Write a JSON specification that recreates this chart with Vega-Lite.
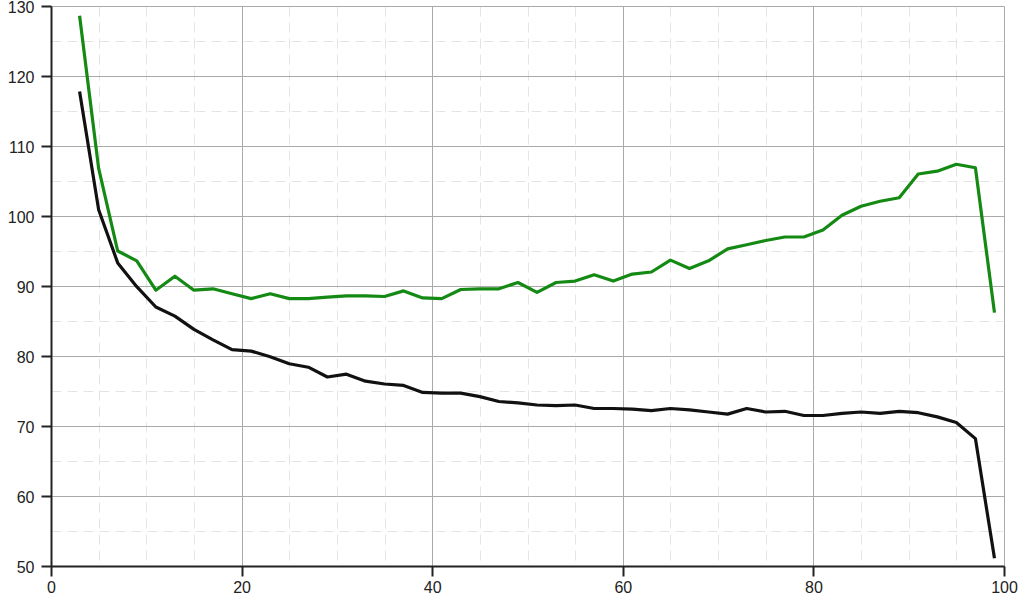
{
  "$schema": "https://vega.github.io/schema/vega-lite/v6.json",
  "width": 953,
  "height": 560,
  "autosize": {"type": "none"},
  "padding": {"left": 51, "top": 6, "right": 20, "bottom": 40},
  "background": "white",
  "config": {
    "view": {"stroke": null},
    "axis": {
      "labelFont": "Liberation Sans",
      "labelFontSize": 16,
      "labelColor": "#222222",
      "labelFlush": false,
      "labelOverlap": false,
      "titleFont": "Liberation Sans",
      "domain": true,
      "domainColor": "#222222",
      "domainWidth": 2,
      "ticks": true,
      "tickColor": "#222222",
      "tickWidth": 2,
      "tickSize": 10,
      "grid": true,
      "gridWidth": 1
    }
  },
  "datasets": {
    "d": [
      {"p": 3, "s": "green", "v": 128.6}, {"p": 5, "s": "green", "v": 106.8}, {"p": 7, "s": "green", "v": 95.0},
      {"p": 9, "s": "green", "v": 93.6}, {"p": 11, "s": "green", "v": 89.4}, {"p": 13, "s": "green", "v": 91.4},
      {"p": 15, "s": "green", "v": 89.4}, {"p": 17, "s": "green", "v": 89.6}, {"p": 19, "s": "green", "v": 88.9},
      {"p": 21, "s": "green", "v": 88.2}, {"p": 23, "s": "green", "v": 88.9}, {"p": 25, "s": "green", "v": 88.2},
      {"p": 27, "s": "green", "v": 88.2}, {"p": 29, "s": "green", "v": 88.4}, {"p": 31, "s": "green", "v": 88.6},
      {"p": 33, "s": "green", "v": 88.6}, {"p": 35, "s": "green", "v": 88.5}, {"p": 37, "s": "green", "v": 89.3},
      {"p": 39, "s": "green", "v": 88.3}, {"p": 41, "s": "green", "v": 88.2}, {"p": 43, "s": "green", "v": 89.5},
      {"p": 45, "s": "green", "v": 89.6}, {"p": 47, "s": "green", "v": 89.6}, {"p": 49, "s": "green", "v": 90.5},
      {"p": 51, "s": "green", "v": 89.1}, {"p": 53, "s": "green", "v": 90.5}, {"p": 55, "s": "green", "v": 90.7},
      {"p": 57, "s": "green", "v": 91.6}, {"p": 59, "s": "green", "v": 90.7}, {"p": 61, "s": "green", "v": 91.7},
      {"p": 63, "s": "green", "v": 92.0}, {"p": 65, "s": "green", "v": 93.7}, {"p": 67, "s": "green", "v": 92.5},
      {"p": 69, "s": "green", "v": 93.6}, {"p": 71, "s": "green", "v": 95.3}, {"p": 73, "s": "green", "v": 95.9},
      {"p": 75, "s": "green", "v": 96.5}, {"p": 77, "s": "green", "v": 97.0}, {"p": 79, "s": "green", "v": 97.0},
      {"p": 81, "s": "green", "v": 98.0}, {"p": 83, "s": "green", "v": 100.1}, {"p": 85, "s": "green", "v": 101.4},
      {"p": 87, "s": "green", "v": 102.1}, {"p": 89, "s": "green", "v": 102.6}, {"p": 91, "s": "green", "v": 106.0},
      {"p": 93, "s": "green", "v": 106.4}, {"p": 95, "s": "green", "v": 107.4}, {"p": 97, "s": "green", "v": 106.9},
      {"p": 99, "s": "green", "v": 86.2},
      {"p": 3, "s": "black", "v": 117.8}, {"p": 5, "s": "black", "v": 100.9}, {"p": 7, "s": "black", "v": 93.3},
      {"p": 9, "s": "black", "v": 89.9}, {"p": 11, "s": "black", "v": 87.0}, {"p": 13, "s": "black", "v": 85.7},
      {"p": 15, "s": "black", "v": 83.8}, {"p": 17, "s": "black", "v": 82.3}, {"p": 19, "s": "black", "v": 80.9},
      {"p": 21, "s": "black", "v": 80.7}, {"p": 23, "s": "black", "v": 79.9}, {"p": 25, "s": "black", "v": 78.9},
      {"p": 27, "s": "black", "v": 78.4}, {"p": 29, "s": "black", "v": 77.0}, {"p": 31, "s": "black", "v": 77.4},
      {"p": 33, "s": "black", "v": 76.4}, {"p": 35, "s": "black", "v": 76.0}, {"p": 37, "s": "black", "v": 75.8},
      {"p": 39, "s": "black", "v": 74.8}, {"p": 41, "s": "black", "v": 74.7}, {"p": 43, "s": "black", "v": 74.7},
      {"p": 45, "s": "black", "v": 74.2}, {"p": 47, "s": "black", "v": 73.5}, {"p": 49, "s": "black", "v": 73.3},
      {"p": 51, "s": "black", "v": 73.0}, {"p": 53, "s": "black", "v": 72.9}, {"p": 55, "s": "black", "v": 73.0},
      {"p": 57, "s": "black", "v": 72.5}, {"p": 59, "s": "black", "v": 72.5}, {"p": 61, "s": "black", "v": 72.4},
      {"p": 63, "s": "black", "v": 72.2}, {"p": 65, "s": "black", "v": 72.5}, {"p": 67, "s": "black", "v": 72.3},
      {"p": 69, "s": "black", "v": 72.0}, {"p": 71, "s": "black", "v": 71.7}, {"p": 73, "s": "black", "v": 72.5},
      {"p": 75, "s": "black", "v": 72.0}, {"p": 77, "s": "black", "v": 72.1}, {"p": 79, "s": "black", "v": 71.5},
      {"p": 81, "s": "black", "v": 71.5}, {"p": 83, "s": "black", "v": 71.8}, {"p": 85, "s": "black", "v": 72.0},
      {"p": 87, "s": "black", "v": 71.8}, {"p": 89, "s": "black", "v": 72.1}, {"p": 91, "s": "black", "v": 71.9},
      {"p": 93, "s": "black", "v": 71.3}, {"p": 95, "s": "black", "v": 70.5}, {"p": 97, "s": "black", "v": 68.2},
      {"p": 99, "s": "black", "v": 51.1}
    ]
  },
  "data": {"name": "d"},
  "mark": {"type": "line", "strokeWidth": 3.2, "strokeJoin": "round"},
  "encoding": {
    "x": {
      "field": "p", "type": "quantitative",
      "scale": {"domain": [0, 100], "nice": false, "zero": false},
      "axis": {
        "orient": "bottom", "title": null,
        "values": [0, 5, 10, 15, 20, 25, 30, 35, 40, 45, 50, 55, 60, 65, 70, 75, 80, 85, 90, 95, 100],
        "labelExpr": "datum.value % 20 === 0 ? datum.label : ''",
        "gridColor": {"condition": {"test": "datum.value % 20 === 0", "value": "#aaaaaa"}, "value": "#e4e4e4"},
        "gridDash": {"condition": {"test": "datum.value % 20 === 0", "value": []}, "value": [10, 6]},
        "tickOpacity": {"condition": {"test": "datum.value % 20 === 0", "value": 1}, "value": 0},
        "labelPadding": 3
      }
    },
    "y": {
      "field": "v", "type": "quantitative",
      "scale": {"domain": [50, 130], "nice": false, "zero": false},
      "axis": {
        "orient": "left", "title": null,
        "values": [50, 55, 60, 65, 70, 75, 80, 85, 90, 95, 100, 105, 110, 115, 120, 125, 130],
        "labelExpr": "datum.value % 10 === 0 ? datum.label : ''",
        "gridColor": {"condition": {"test": "datum.value % 10 === 0", "value": "#aaaaaa"}, "value": "#e4e4e4"},
        "gridDash": {"condition": {"test": "datum.value % 10 === 0", "value": []}, "value": [10, 6]},
        "tickOpacity": {"condition": {"test": "datum.value % 10 === 0", "value": 1}, "value": 0},
        "labelPadding": 7,
        "labelOffset": 1.5
      }
    },
    "color": {
      "field": "s", "type": "nominal",
      "scale": {"domain": ["green", "black"], "range": ["#148a14", "#111111"]},
      "legend": null
    }
  }
}
